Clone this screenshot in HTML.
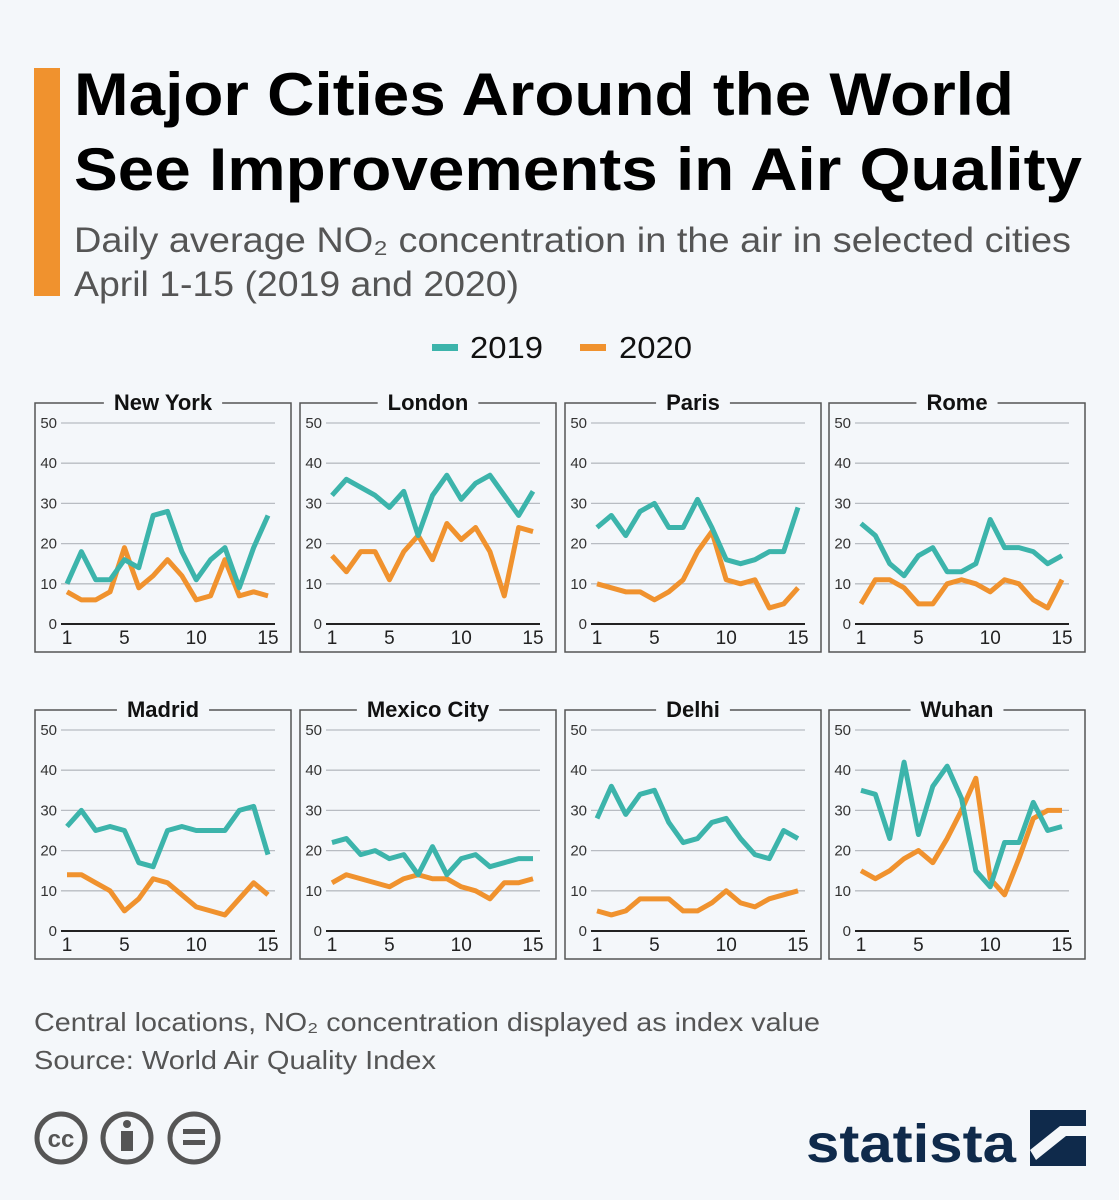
<!DOCTYPE html>
<html><head><meta charset="utf-8"><style>
body{margin:0;background:#f4f7fa;}
svg{display:block;font-family:"Liberation Sans",sans-serif;}
</style></head><body>
<svg id="s" width="1119" height="1200" viewBox="0 0 1119 1200" xmlns="http://www.w3.org/2000/svg">
<rect width="1119" height="1200" fill="#f4f7fa"/>
<rect x="34" y="68" width="26" height="228" fill="#f0922e"/>
<text x="74" y="115" font-size="60" font-weight="bold" fill="#000" textLength="940" lengthAdjust="spacingAndGlyphs">Major Cities Around the World</text>
<text x="74" y="190" font-size="60" font-weight="bold" fill="#000" textLength="1008" lengthAdjust="spacingAndGlyphs">See Improvements in Air Quality</text>
<text x="74" y="252" font-size="35" fill="#555" textLength="997" lengthAdjust="spacingAndGlyphs">Daily average NO₂ concentration in the air in selected cities</text>
<text x="74" y="296" font-size="35" fill="#555" textLength="445" lengthAdjust="spacingAndGlyphs">April 1-15 (2019 and 2020)</text>
<g>
<rect x="432" y="344" width="26" height="7" fill="#3cb4ab"/>
<text x="470" y="358" font-size="31" fill="#111" textLength="73" lengthAdjust="spacingAndGlyphs">2019</text>
<rect x="580" y="344" width="26" height="7" fill="#f0922e"/>
<text x="619" y="358" font-size="31" fill="#111" textLength="73" lengthAdjust="spacingAndGlyphs">2020</text>
</g>
<g id="panels"></g>
<text x="34" y="1031" font-size="26" fill="#555" textLength="786" lengthAdjust="spacingAndGlyphs">Central locations, NO₂ concentration displayed as index value</text>
<text x="34" y="1069" font-size="26" fill="#555" textLength="402" lengthAdjust="spacingAndGlyphs">Source: World Air Quality Index</text>
<g fill="none" stroke="#555" stroke-width="5">
<circle cx="61" cy="1138" r="24"/><text x="61" y="1147" font-size="24" font-weight="bold" fill="#555" stroke="none" text-anchor="middle">cc</text>
<circle cx="127" cy="1138" r="24"/><circle cx="127" cy="1124" r="4" fill="#555" stroke="none"/><rect x="121" y="1131" width="12" height="20" fill="#555" stroke="none"/>
<circle cx="194" cy="1138" r="24"/><rect x="183" y="1129" width="22" height="5" fill="#555" stroke="none"/><rect x="183" y="1140" width="22" height="5" fill="#555" stroke="none"/>
</g>
<text x="806" y="1162" font-size="54" font-weight="bold" fill="#0f2a4b" textLength="210" lengthAdjust="spacingAndGlyphs">statista</text>
<g><rect x="1030" y="1110" width="56" height="56" fill="#0f2a4b"/><path d="M1030 1150 L1060 1126 L1086 1126 L1086 1136 L1066 1136 L1036 1160 Z" fill="#f4f7fa"/></g>
</svg>
<script>
const cities=["New York","London","Paris","Rome","Madrid","Mexico City","Delhi","Wuhan"];
const days=[1,2,3,4,5,6,7,8,9,10,11,12,13,14,15];
const yTicks=[0,10,20,30,40,50];
const xTicks=[1,5,10,15];
const v2019=[
[10,18,11,11,16,14,27,28,18,11,16,19,9,19,27],
[32,36,34,32,29,33,22,32,37,31,35,37,32,27,33],
[24,27,22,28,30,24,24,31,24,16,15,16,18,18,29],
[25,22,15,12,17,19,13,13,15,26,19,19,18,15,17],
[26,30,25,26,25,17,16,25,26,25,25,25,30,31,19],
[22,23,19,20,18,19,14,21,14,18,19,16,17,18,18],
[28,36,29,34,35,27,22,23,27,28,23,19,18,25,23],
[35,34,23,42,24,36,41,33,15,11,22,22,32,25,26]];
const v2020=[
[8,6,6,8,19,9,12,16,12,6,7,16,7,8,7],
[17,13,18,18,11,18,22,16,25,21,24,18,7,24,23],
[10,9,8,8,6,8,11,18,23,11,10,11,4,5,9],
[5,11,11,9,5,5,10,11,10,8,11,10,6,4,11],
[14,14,12,10,5,8,13,12,9,6,5,4,8,12,9],
[12,14,13,12,11,13,14,13,13,11,10,8,12,12,13],
[5,4,5,8,8,8,5,5,7,10,7,6,8,9,10],
[15,13,15,18,20,17,23,30,38,13,9,18,28,30,30]];
const NS="http://www.w3.org/2000/svg";
const root=document.getElementById("panels");
function mk(t,a,p){const e=document.createElementNS(NS,t);for(const k in a)e.setAttribute(k,a[k]);p.appendChild(e);return e;}
const colX=[35,300,565,829], rowY=[403,710];
cities.forEach((c,i)=>{
  const bx=colX[i%4], by=rowY[Math.floor(i/4)];
  const g=mk("g",{},root);
  
  
  const X=d=>bx+32+(d-1)*(201/14);
  const Y=v=>by+221-v*(201/50);
  mk("rect",{x:bx,y:by,width:256,height:249,fill:"none",stroke:"#555","stroke-width":1.5},g);
  yTicks.forEach(t=>{
    const l=mk("line",{x1:bx+26,x2:bx+240,y1:Y(t),y2:Y(t),stroke:t===0?"#222":"#b8bcc2","stroke-width":t===0?2:1.3},g);
    
    
    const tx=mk("text",{x:bx+22,y:Y(t)+5,"font-size":15,fill:"#333","text-anchor":"end"},g);
    tx.textContent=t;
    
    
  });
  xTicks.forEach(t=>{
    const tx=mk("text",{x:X(t),y:by+241,"font-size":19,fill:"#222","text-anchor":"middle"},g);
    tx.textContent=t;
    
    
  });
  [[v2020[i],"#f0922e","line-2020"],[v2019[i],"#3cb4ab","line-2019"]].forEach(([vals,col,nm])=>{
    const p=mk("polyline",{points:vals.map((v,j)=>X(days[j])+","+Y(v)).join(" "),fill:"none",stroke:col,"stroke-width":5,"stroke-linejoin":"round"},g);
    
    
  });
  const tt=mk("text",{x:bx+128,y:by+7,"font-size":22,"font-weight":"bold",fill:"#111","text-anchor":"middle"},g);
  tt.textContent=c;
  
  
  const w=tt.getComputedTextLength();
  const bg=mk("rect",{x:bx+128-w/2-10,y:by-3,width:w+20,height:6,fill:"#f4f7fa"},g);
  g.insertBefore(bg,tt);
});
</script>
</body></html>
